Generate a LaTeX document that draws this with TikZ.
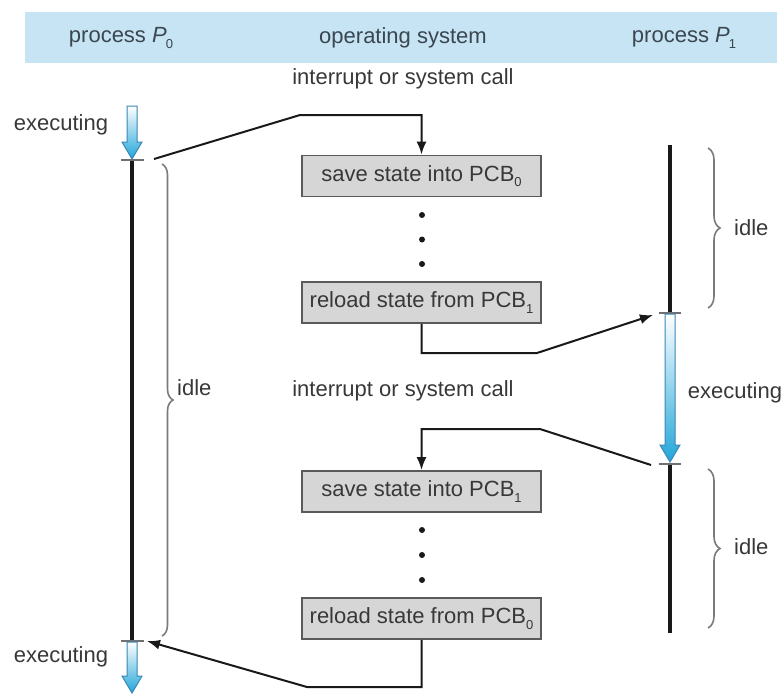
\documentclass[tikz,border=0pt]{standalone}
\usepackage{fontspec}
\setmainfont{Liberation Sans}
\usetikzlibrary{arrows.meta,decorations.pathreplacing}
\definecolor{bandblue}{HTML}{C6E4F4}
\definecolor{boxgray}{HTML}{D6D6D6}
\definecolor{boxedge}{HTML}{5A5A5A}
\definecolor{txt}{HTML}{383838}
\definecolor{hdrtxt}{HTML}{3A4650}
\definecolor{arrowblue}{HTML}{22A6D8}
\definecolor{arrowedge}{HTML}{3A86B8}
\definecolor{bracegray}{HTML}{7A7A7A}
\definecolor{tickgray}{HTML}{707070}
\newcommand\subs[1]{\raisebox{-0.45ex}{\fontsize{13}{13}\selectfont #1}}
\newcommand\bluearrow[3]{%
  \shadedraw[top color=white, bottom color=arrowblue, draw=arrowedge, line width=1pt]
    (#1-5,#2) -- (#1+5,#2) -- (#1+5,#3-17) -- (#1+10,#3-17) -- (#1,#3)
    -- (#1-10,#3-17) -- (#1-5,#3-17) -- cycle;}
\begin{document}
\begin{tikzpicture}[x=1pt,y=-1pt,
  lbl/.style={inner sep=0pt, text=txt, font=\fontsize{22}{26}\selectfont},
  hdr/.style={lbl, text=hdrtxt},
  osbox/.style={draw=boxedge, fill=boxgray, line width=1.8pt, minimum width=239pt,
    minimum height=41pt, inner sep=0pt, text=txt, font=\fontsize{22}{26}\selectfont},
  conn/.style={draw=black!90, line width=2pt, -{Latex[length=13pt,width=10pt]}},
  timeline/.style={line width=4pt, draw=black!90},
  tickmark/.style={line width=1.5pt, draw=tickgray},
  bracket/.style={decorate, decoration={brace, amplitude=#1}, line width=1.6pt, draw=bracegray},
  dot/.style={circle, fill=black!90, inner sep=0pt, minimum size=6pt}]
\useasboundingbox (0,0) rectangle (783,694);

% header band
\fill[bandblue] (25,12) rectangle (777,63);
\node[hdr] (h0) at (121,38) {process \textit{P}\kern-1pt\subs{0}};
\node[hdr] (hos) at (403,38) {operating system};
\node[hdr] (h1) at (684,38) {process \textit{P}\kern-1pt\subs{1}};

% OS column
\node[lbl] (int1) at (403,79) {interrupt or system call};
\node[osbox] (save0) at (421.5,176) {save state into PCB\subs{0}};
\node[dot] (d1) at (422,215) {};
\node[dot] (d2) at (422,239.5) {};
\node[dot] (d3) at (422,264) {};
\node[osbox] (reload1) at (421.5,302.5) {reload state from PCB\subs{1}};
\node[lbl] (int2) at (403,391) {interrupt or system call};
\node[osbox] (save1) at (421.5,491.5) {save state into PCB\subs{1}};
\node[dot] (d4) at (422,530) {};
\node[dot] (d5) at (422,555) {};
\node[dot] (d6) at (422,580) {};
\node[osbox] (reload0) at (421.5,618.5) {reload state from PCB\subs{0}};

% process P0 timeline
\bluearrow{132}{106}{159}
\draw[timeline] (132,160) -- (132,641);
\draw[tickmark] (121,160) -- (144,160);
\draw[tickmark] (121,641) -- (144,641);
\bluearrow{132}{642}{693}
\node[lbl] (ex0a) at (61,125) {executing};
\node[lbl] (ex0b) at (61,657) {executing};
\draw[bracket=11pt] (162,164) -- (162,636);
\node[lbl, anchor=west] (idle0) at (177,388) {idle};

% process P1 timeline
\draw[timeline] (670,145) -- (670,313);
\draw[tickmark] (659,313) -- (681,313);
\bluearrow{670}{314}{462}
\draw[tickmark] (659,464) -- (681,464);
\draw[timeline] (670,465) -- (670,633);
\node[lbl] (ex1) at (735,393) {executing};
\draw[bracket=12pt] (708,148) -- (708,308);
\node[lbl, anchor=west] (idle1a) at (734,228) {idle};
\draw[bracket=12pt] (708,469) -- (708,628);
\node[lbl, anchor=west] (idle1b) at (734,547) {idle};

% connector end points near ticks
\coordinate (p0t1) at (154,159);
\coordinate (p1t1) at (653,315);
\coordinate (p1t2) at (651,465);
\coordinate (p0t2) at (147,641);

% connectors
\draw[conn] (p0t1) -- (300,115) -| (save0.north);
\draw[conn] (reload1.south) |- (537,353) -- (p1t1);
\draw[conn] (p1t2) -- (540,429) -| (save1.north);
\draw[conn] (reload0.south) |- (307,687) -- (p0t2);
\end{tikzpicture}
\end{document}
